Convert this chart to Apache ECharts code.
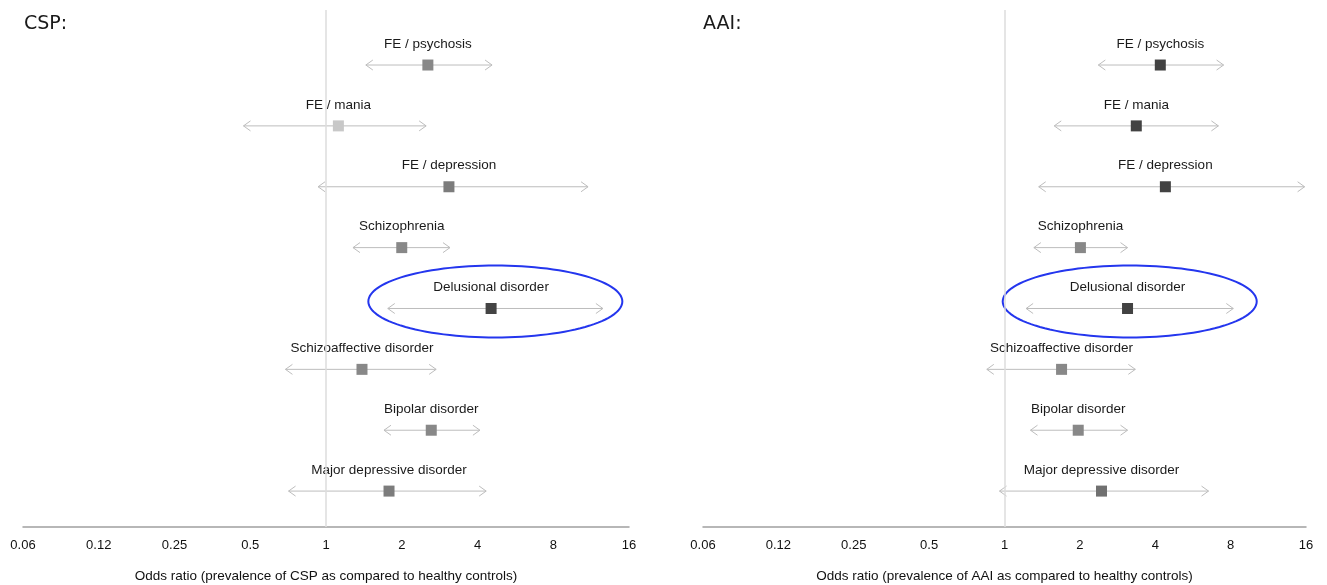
<!DOCTYPE html>
<html>
<head>
<meta charset="utf-8">
<script src="https://cdn.jsdelivr.net/npm/echarts@6/dist/echarts.min.js"></script>
<style>html,body{margin:0;padding:0;background:#fff;}#c{width:1327px;height:585px;}</style>
</head>
<body>
<div id="c"></div>
<script>
const categories = ['FE / psychosis','FE / mania','FE / depression','Schizophrenia','Delusional disorder','Schizoaffective disorder','Bipolar disorder','Major depressive disorder'];
const cspOR = [2.54, 1.12, 3.08, 2.0, 4.53, 1.39, 2.62, 1.78];
const cspLo = [1.44, 0.47, 0.93, 1.28, 1.76, 0.69, 1.70, 0.71];
const cspHi = [4.57, 2.5, 11.0, 3.11, 12.6, 2.74, 4.09, 4.33];
const aaiOR = [4.19, 3.36, 4.39, 2.01, 3.1, 1.69, 1.97, 2.44];
const aaiLo = [2.37, 1.58, 1.37, 1.31, 1.22, 0.85, 1.27, 0.955];
const aaiHi = [7.5, 7.15, 15.8, 3.1, 8.2, 3.33, 3.1, 6.53];
const tickValues = [0.0625, 0.125, 0.25, 0.5, 1, 2, 4, 8, 16];
const tickLabels = ['0.06','0.12','0.25','0.5','1','2','4','8','16'];
const highlighted = ['Delusional disorder'];
const cspShade = ['#888888','#c8c8c8','#7c7c7c','#888888','#444444','#888888','#888888','#7c7c7c'];
const aaiShade = ['#424242','#424242','#424242','#888888','#424242','#888888','#888888','#707070'];

const FONT = '"Liberation Sans", Arial, sans-serif';

function makeData(or, lo, hi) {
  return categories.map((c, i) => [i, or[i], lo[i], hi[i]]);
}

function makeRender(shades) {
  return function (params, api) {
    const i = params.dataIndex;
    const row = api.value(0);
    const pOR = api.coord([api.value(1), row]);
    const pLo = api.coord([api.value(2), row]);
    const pHi = api.coord([api.value(3), row]);
    const y = pOR[1];
    const lineStyle = { stroke: '#bdbdbd', lineWidth: 1, fill: null };
    const ah = 7, aw = 5;
    const children = [
      { type: 'line', shape: { x1: pLo[0], y1: y, x2: pHi[0], y2: y }, style: lineStyle },
      { type: 'polyline', shape: { points: [[pLo[0] + ah, y - aw], [pLo[0], y], [pLo[0] + ah, y + aw]] }, style: lineStyle },
      { type: 'polyline', shape: { points: [[pHi[0] - ah, y - aw], [pHi[0], y], [pHi[0] - ah, y + aw]] }, style: lineStyle },
      { type: 'rect', shape: { x: pOR[0] - 5.5, y: y - 5.5, width: 11, height: 11 }, style: { fill: shades[i] } },
      { type: 'text', style: { text: categories[i], x: pOR[0], y: y - 21, align: 'center', verticalAlign: 'middle', fontSize: 13.5, fontFamily: FONT, fill: '#1a1a1a' } }
    ];
    if (highlighted.indexOf(categories[i]) >= 0) {
      const cx = (pLo[0] + pHi[0]) / 2, cy = y - 7, rx = 127, ry = 36;
      const pts = [];
      for (let k = 0; k <= 120; k++) {
        const t = k / 120 * Math.PI * 2;
        pts.push([cx + rx * Math.cos(t), cy + ry * Math.sin(t)]);
      }
      children.push({ type: 'polygon', shape: { points: pts }, style: { fill: null, stroke: '#2436ee', lineWidth: 2 } });
    }
    return { type: 'group', children };
  };
}

function xAxis(gridIndex, name) {
  return {
    type: 'log', logBase: 2, gridIndex, min: 0.0625, max: 16, splitNumber: 8,
    name, nameLocation: 'middle', nameGap: 42,
    nameTextStyle: { fontSize: 13.5, fontFamily: FONT, color: '#111' },
    axisLine: { show: true, onZero: false, lineStyle: { color: '#a0a0a0', width: 1.5 } },
    axisTick: { show: false },
    splitLine: { show: false },
    axisLabel: {
      fontSize: 13, fontFamily: FONT, color: '#111', margin: 12, showMinLabel: true, showMaxLabel: true,
      formatter: v => {
        const idx = tickValues.findIndex(t => Math.abs(Math.log2(t) - Math.log2(v)) < 1e-6);
        return idx >= 0 ? tickLabels[idx] : '';
      }
    }
  };
}

function yAxis(gridIndex) {
  return { type: 'value', gridIndex, inverse: true, min: -0.904, max: 7.59, show: false };
}

function series(i, or, lo, hi, shades) {
  return {
    type: 'custom', xAxisIndex: i, yAxisIndex: i,
    data: makeData(or, lo, hi),
    encode: { x: [1, 2, 3], y: 0 },
    renderItem: makeRender(shades),
    clip: false,
    silent: true,
    markLine: {
      silent: true, symbol: ['none', 'none'], label: { show: false },
      lineStyle: { color: '#dcdcdc', width: 1.5, type: 'solid' },
      data: [{ xAxis: 1 }],
      animation: false
    }
  };
}

const chart = echarts.init(document.getElementById('c'), null, { renderer: 'canvas' });
chart.setOption({
  animation: false,
  backgroundColor: '#fff',
  title: [
    { text: 'CSP:', left: 19, top: 10, textStyle: { fontSize: 19, fontWeight: 'normal', fontFamily: '"DejaVu Sans", sans-serif', color: '#1a1a1a' } },
    { text: 'AAI:', left: 698, top: 10, textStyle: { fontSize: 19, fontWeight: 'normal', fontFamily: '"DejaVu Sans", sans-serif', color: '#1a1a1a' } }
  ],
  grid: [
    { left: 23, width: 606, top: 10, bottom: 58, outerBoundsMode: 'none', containLabel: false },
    { left: 703, width: 603, top: 10, bottom: 58, outerBoundsMode: 'none', containLabel: false }
  ],
  xAxis: [
    xAxis(0, 'Odds ratio (prevalence of CSP as compared to healthy controls)'),
    xAxis(1, 'Odds ratio (prevalence of AAI as compared to healthy controls)')
  ],
  yAxis: [yAxis(0), yAxis(1)],
  series: [
    series(0, cspOR, cspLo, cspHi, cspShade),
    series(1, aaiOR, aaiLo, aaiHi, aaiShade)
  ]
});
</script>
</body>
</html>
